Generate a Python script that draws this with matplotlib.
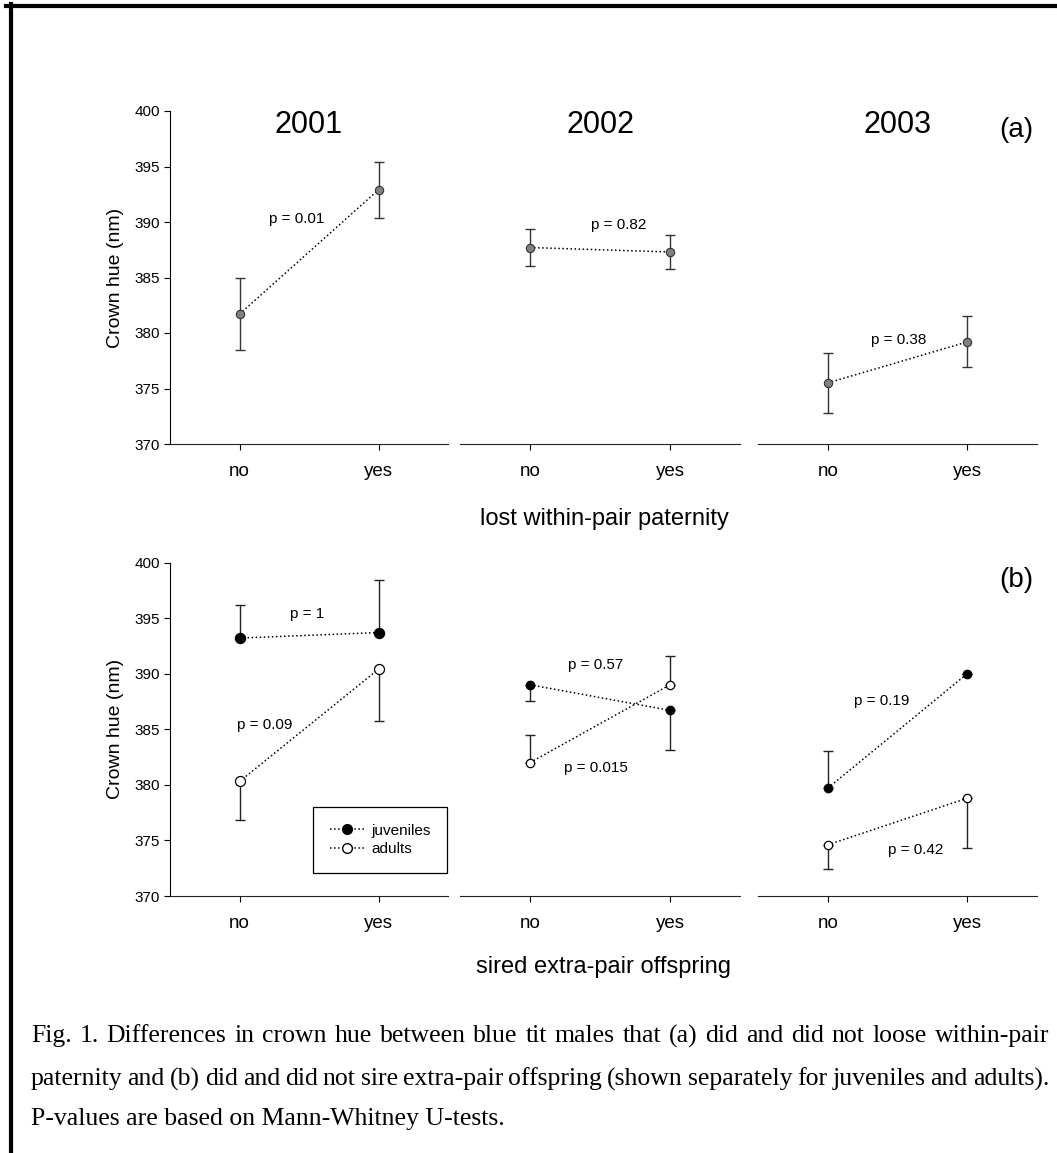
import matplotlib
matplotlib.use("Agg")
import matplotlib.pyplot as plt
from matplotlib.lines import Line2D

plt.rcParams.update({
    "font.family": ["Liberation Sans", "DejaVu Sans"],
    "xtick.direction": "out", "ytick.direction": "out",
    "xtick.major.size": 4, "ytick.major.size": 4,
})

# ---- data ----
years = ["2001", "2002", "2003"]
groups = ["no", "yes"]

# (a) lost within-pair paternity: mean +- SE
a_mean = [[381.7, 392.9], [387.7, 387.3], [375.5, 379.2]]
a_se = [[3.25, 2.5], [1.65, 1.55], [2.7, 2.3]]
a_p = ["p = 0.01", "p = 0.82", "p = 0.38"]
a_p_pos = [(0.41, 390.3), (0.63, 389.7), (0.51, 379.4)]

# (b) sired extra-pair offspring: juveniles / adults, one-sided SE bars
juv_mean = [[393.2, 393.7], [389.0, 386.7], [379.7, 390.0]]
juv_se_up = [[3.0, 4.7], [0.0, 0.0], [3.3, 0.0]]
juv_se_dn = [[0.0, 0.0], [1.5, 3.6], [0.0, 0.0]]
adu_mean = [[380.3, 390.4], [382.0, 389.0], [374.6, 378.8]]
adu_se_up = [[0.0, 0.0], [2.5, 2.6], [0.0, 0.0]]
adu_se_dn = [[3.5, 4.7], [0.0, 0.0], [2.2, 4.5]]
juv_p = ["p = 1", "p = 0.57", "p = 0.19"]
juv_p_pos = [(0.49, 395.4), (0.47, 390.8), (0.39, 387.5)]
adu_p = ["p = 0.09", "p = 0.015", "p = 0.42"]
adu_p_pos = [(0.18, 385.4), (0.47, 381.5), (0.63, 374.1)]

caption = [
    "Fig. 1. Differences in crown hue between blue tit males that (a) did and did not loose within-pair",
    "paternity and (b) did and did not sire extra-pair offspring (shown separately for juveniles and adults).",
    "P-values are based on Mann-Whitney U-tests.",
]

W, H = 1057, 1153
fig = plt.figure(figsize=(W / 100, H / 100), dpi=100)

# panel columns in pixels (left, right)
cols = [(170, 448), (460, 740), (758, 1037)]
rows = [(111, 444), (562.5, 896)]


def add_ax(c, r):
    (x0, x1), (y0, y1) = c, r
    return fig.add_axes([x0 / W, 1 - y1 / H, (x1 - x0) / W, (y1 - y0) / H])


def style(ax, first):
    ax.set_xlim(-0.5, 1.5)
    ax.set_ylim(370, 400)
    ax.set_xticks([0, 1])
    ax.set_xticklabels(groups, fontsize=13.5)
    ax.tick_params(axis="x", pad=10)
    for s in ("top", "right"):
        ax.spines[s].set_visible(False)
    ax.spines["bottom"].set_color("#222222")
    if first:
        ax.set_yticks(range(370, 401, 5))
        ax.tick_params(axis="y", labelsize=11, pad=3)
        ax.set_ylabel("Crown hue (nm)", fontsize=14, labelpad=8)
    else:
        ax.spines["left"].set_visible(False)
        ax.set_yticks([])
    ax.patch.set_alpha(0)


x = [0, 1]
ms_b = [7.2, 6.0, 6.0]

# ---- (a) ----
for i, yr in enumerate(years):
    ax = add_ax(cols[i], rows[0])
    style(ax, i == 0)
    ax.errorbar(x, a_mean[i], yerr=a_se[i], fmt="none", ecolor="#333333",
                elinewidth=1.0, capsize=3.5, capthick=1.0, zorder=2)
    ax.plot(x, a_mean[i], ls=":", color="black", lw=1.1, marker="o", ms=6,
            mfc="#808080", mec="#333333", mew=0.8, zorder=3)
    ax.text(a_p_pos[i][0], a_p_pos[i][1], a_p[i], ha="center", va="center", fontsize=11)
    ax.text(0.5, 0.958, yr, transform=ax.transAxes, ha="center", va="center", fontsize=22)
    if i == 2:
        ax.text(0.925, 0.943, "(a)", transform=ax.transAxes, ha="center", va="center",
                fontsize=20)

# ---- (b) ----
for i, yr in enumerate(years):
    ax = add_ax(cols[i], rows[1])
    style(ax, i == 0)
    ax.errorbar(x, juv_mean[i], yerr=[juv_se_dn[i], juv_se_up[i]], fmt="none",
                ecolor="#222222", elinewidth=1.0, capsize=3.5, capthick=1.0, zorder=2)
    ax.errorbar(x, adu_mean[i], yerr=[adu_se_dn[i], adu_se_up[i]], fmt="none",
                ecolor="#222222", elinewidth=1.0, capsize=3.5, capthick=1.0, zorder=2)
    ax.plot(x, juv_mean[i], ls=":", color="black", lw=1.1, marker="o", ms=ms_b[i],
            mfc="black", mec="black", zorder=3)
    ax.plot(x, adu_mean[i], ls=":", color="black", lw=1.1, marker="o", ms=ms_b[i],
            mfc="white", mec="black", mew=0.9, zorder=3)
    ax.text(juv_p_pos[i][0], juv_p_pos[i][1], juv_p[i], ha="center", va="center", fontsize=11)
    ax.text(adu_p_pos[i][0], adu_p_pos[i][1], adu_p[i], ha="center", va="center", fontsize=11)
    if i == 0:
        h = [Line2D([], [], ls=":", color="black", lw=1.1, marker="o", ms=7,
                    mfc="black", mec="black", label="juveniles"),
             Line2D([], [], ls=":", color="black", lw=1.1, marker="o", ms=7,
                    mfc="white", mec="black", label="adults")]
        leg = ax.legend(handles=h, loc="upper left", bbox_to_anchor=(0.514, 0.267),
                        borderaxespad=0, fontsize=11, fancybox=False, framealpha=1,
                        edgecolor="black", handlelength=2.3, labelspacing=0.3,
                        borderpad=1.1, handletextpad=0.4)
        leg.get_frame().set_linewidth(0.9)
    if i == 2:
        ax.text(0.925, 0.948, "(b)", transform=ax.transAxes, ha="center", va="center",
                fontsize=20)

fig.text(604 / W, 1 - 519 / H, "lost within-pair paternity", ha="center", va="center",
         fontsize=17)
fig.text(604 / W, 1 - 967 / H, "sired extra-pair offspring", ha="center", va="center",
         fontsize=17)

# ---- caption (justified like the original) ----
renderer = fig.canvas.get_renderer()
cap_font = dict(family=["Liberation Serif", "DejaVu Serif"], fontsize=18.5)
cap_y = [1036, 1079, 1119]
x_left, x_right = 31, 1049
for k, line in enumerate(caption):
    y = 1 - cap_y[k] / H
    if k == len(caption) - 1:
        fig.text(x_left / W, y, line, ha="left", va="center", **cap_font)
        continue
    words = line.split(" ")
    objs = [fig.text(0, y, w, ha="left", va="center", **cap_font) for w in words]
    widths = [o.get_window_extent(renderer).width for o in objs]
    gap = (x_right - x_left - sum(widths)) / (len(words) - 1)
    pos = x_left
    for o, wd in zip(objs, widths):
        o.set_x(pos / W)
        pos += wd + gap

# frame lines (top and left)
fig.add_artist(Line2D([6 / W, 1], [1 - 6 / H, 1 - 6 / H], color="black", lw=3))
fig.add_artist(Line2D([11 / W, 11 / W], [0, 1 - 4 / H], color="black", lw=3))

fig.savefig("out.png", dpi=100)
